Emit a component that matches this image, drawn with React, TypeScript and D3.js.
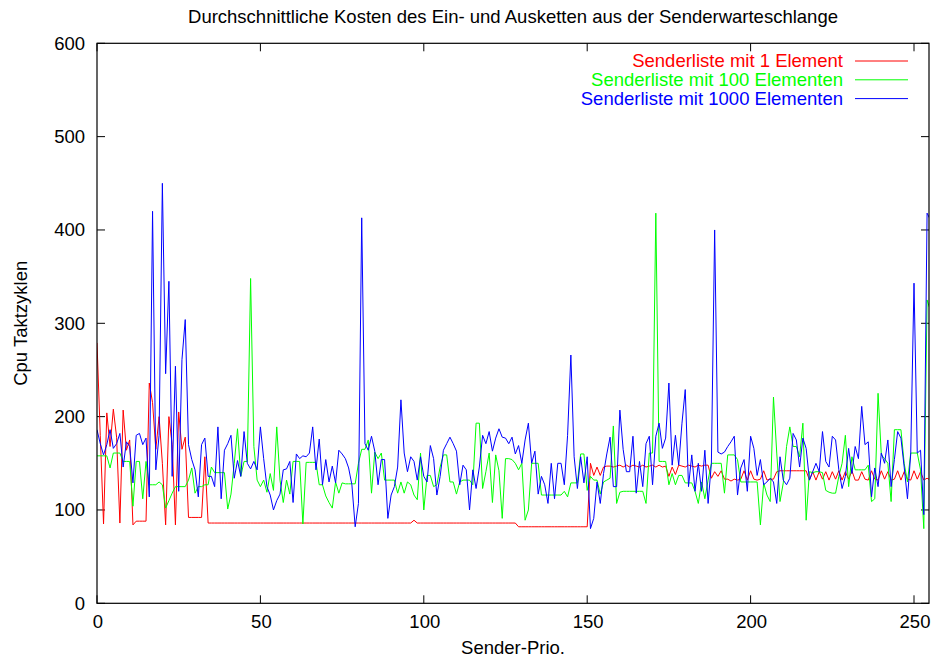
import * as d3 from "d3";

// Sender-Prio. 0..255, ein Wert pro Prioritaet
const kosten1 = [
  279, 180, 85, 204, 168, 208, 178, 86, 207, 164, 175, 84, 88, 88, 88, 88,
  236, 215, 165, 200, 150, 84, 200, 170, 84, 205, 165, 178, 92, 92, 92, 92,
  92, 157, 86, 86, 86, 86, 86, 86, 86, 86, 86, 86, 86, 86, 86, 86,
  86, 86, 86, 86, 86, 86, 86, 86, 86, 86, 86, 86, 86, 86, 86, 86,
  86, 86, 86, 86, 86, 86, 86, 86, 86, 86, 86, 86, 86, 86, 86, 86,
  86, 86, 86, 86, 86, 86, 86, 86, 86, 86, 86, 86, 86, 86, 86, 86,
  86, 89, 86, 86, 86, 86, 86, 86, 86, 86, 86, 86, 86, 86, 86, 86,
  86, 86, 86, 86, 86, 86, 86, 86, 86, 86, 86, 86, 86, 86, 86, 86,
  86, 82, 82, 82, 82, 82, 82, 82, 82, 82, 82, 82, 82, 82, 82, 82,
  82, 82, 82, 82, 82, 82, 82, 150, 137, 146, 137, 146, 147, 147, 146, 147,
  148, 146, 148, 146, 148, 147, 146, 148, 146, 147, 148, 146, 148, 146, 147, 136,
  146, 138, 148, 147, 146, 148, 147, 146, 148, 147, 148, 148, 134, 141, 136, 142,
  133, 133, 131, 133, 132, 133, 142, 132, 142, 133, 132, 133, 142, 132, 133, 133,
  141, 142, 142, 142, 142, 142, 142, 142, 142, 142, 132, 141, 132, 141, 133, 141,
  132, 141, 133, 142, 132, 141, 133, 142, 132, 132, 141, 133, 132, 142, 133, 132,
  142, 133, 141, 132, 133, 142, 132, 141, 133, 132, 142, 133, 141, 132, 134, 132,
];

const kosten100 = [
  158, 158, 158, 158, 145, 161, 161, 161, 152, 152, 152, 104, 152, 152, 112, 152,
  127, 127, 127, 130, 127, 102, 110, 118, 125, 125, 125, 125, 132, 145, 118, 125,
  125, 127, 127, 146, 140, 140, 140, 140, 101, 117, 150, 187, 136, 152, 152, 348,
  168, 132, 125, 132, 119, 139, 121, 189, 132, 108, 132, 117, 152, 152, 152, 85,
  151, 151, 151, 151, 127, 127, 115, 108, 102, 130, 118, 129, 128, 128, 128, 128,
  150, 165, 165, 175, 118, 162, 155, 161, 132, 132, 132, 132, 118, 130, 118, 130,
  127, 116, 111, 161, 100, 137, 137, 125, 127, 146, 159, 159, 130, 130, 117, 130,
  132, 132, 132, 127, 193, 193, 123, 141, 161, 108, 159, 142, 91, 155, 155, 154,
  150, 143, 150, 89, 100, 150, 150, 150, 116, 116, 116, 116, 116, 116, 116, 120,
  114, 129, 129, 129, 160, 160, 121, 136, 132, 132, 117, 130, 132, 134, 190, 107,
  119, 120, 120, 120, 120, 120, 120, 120, 107, 161, 161, 418, 152, 152, 152, 127,
  139, 127, 137, 137, 129, 129, 129, 120, 107, 130, 112, 132, 150, 150, 150, 150,
  118, 159, 159, 159, 154, 130, 130, 130, 130, 130, 130, 84, 129, 116, 109, 221,
  161, 109, 129, 168, 189, 168, 168, 157, 193, 89, 141, 140, 141, 141, 140, 121,
  119, 118, 118, 136, 150, 180, 125, 157, 143, 143, 143, 143, 148, 109, 112, 225,
  159, 155, 150, 109, 186, 186, 186, 150, 130, 161, 161, 161, 143, 80, 325, 314,
];

const kosten1000 = [
  186, 171, 159, 170, 186, 166, 171, 182, 146, 173, 168, 129, 180, 182, 170, 177,
  114, 420, 143, 180, 450, 246, 345, 136, 254, 120, 261, 304, 170, 154, 143, 114,
  170, 177, 136, 136, 125, 189, 112, 164, 171, 180, 134, 153, 136, 184, 150, 144,
  152, 143, 189, 155, 125, 116, 100, 110, 117, 143, 144, 152, 108, 160, 155, 158,
  157, 161, 189, 143, 176, 127, 154, 130, 147, 129, 164, 160, 155, 145, 127, 82,
  107, 413, 171, 164, 179, 163, 127, 154, 154, 91, 116, 125, 146, 218, 161, 141,
  157, 152, 132, 157, 136, 130, 169, 155, 116, 136, 164, 171, 178, 171, 163, 127,
  148, 143, 100, 143, 123, 146, 180, 171, 184, 163, 177, 187, 178, 177, 171, 178,
  160, 169, 150, 175, 193, 150, 163, 117, 136, 127, 107, 150, 112, 150, 150, 127,
  180, 266, 157, 123, 157, 129, 157, 80, 91, 130, 107, 139, 160, 178, 125, 125,
  207, 165, 141, 141, 179, 118, 152, 125, 171, 179, 127, 179, 193, 166, 177, 236,
  148, 180, 148, 193, 229, 125, 159, 120, 150, 120, 164, 107, 150, 400, 162, 160,
  162, 168, 173, 179, 116, 145, 154, 120, 179, 166, 137, 154, 127, 130, 134, 130,
  107, 157, 132, 127, 134, 182, 175, 146, 177, 166, 132, 141, 150, 141, 184, 152,
  146, 179, 175, 143, 123, 136, 166, 139, 168, 155, 211, 170, 173, 114, 145, 125,
  161, 150, 175, 125, 154, 184, 177, 146, 112, 160, 343, 161, 164, 95, 418, 411,
];

const xTicks = [0, 50, 100, 150, 200, 250];
const yTicks = [0, 100, 200, 300, 400, 500, 600];

const serien = [
  { name: "Senderliste mit 1 Element", color: "#ff0000", values: kosten1 },
  { name: "Senderliste mit 100 Elementen", color: "#00ff00", values: kosten100 },
  { name: "Senderliste mit 1000 Elementen", color: "#0000ff", values: kosten1000 },
];

const width = 931;
const height = 660;
const left = 97;
const right = 929;
const top = 43.3;
const bottom = 603.3;
const tickLen = 8;
const font = "'Liberation Sans', Arial, Helvetica, sans-serif";
const fs = 18.5;

export default function App() {
  const x = d3.scaleLinear([0, 255], [left, left + 255 * ((914 - left) / 250)]);
  const y = d3.scaleLinear([0, 600], [bottom, top]);
  const line = d3.line<number>((d, i) => x(i), (d) => y(d));

  return (
    <svg
      width={width}
      height={height}
      style={{ position: "absolute", left: 0, top: 0, background: "#fff" }}
      fontFamily={font}
      fontSize={fs}
    >
      <defs>
        <clipPath id="plot">
          <rect x={left} y={top} width={right - left} height={bottom - top} />
        </clipPath>
      </defs>

      <text x={(left + right) / 2} y={23} textAnchor="middle" fill="#000">
        Durchschnittliche Kosten des Ein- und Ausketten aus der Senderwarteschlange
      </text>

      {/* ticks */}
      <g stroke="#000" strokeWidth={1}>
        {xTicks.map((t) => (
          <g key={"x" + t}>
            <line x1={x(t)} x2={x(t)} y1={bottom} y2={bottom - tickLen} />
            <line x1={x(t)} x2={x(t)} y1={top} y2={top + tickLen} />
          </g>
        ))}
        {yTicks.map((t) => (
          <g key={"y" + t}>
            <line x1={left} x2={left + tickLen} y1={y(t)} y2={y(t)} />
            <line x1={right} x2={right - tickLen} y1={y(t)} y2={y(t)} />
          </g>
        ))}
      </g>
      {xTicks.map((t) => (
        <text key={"xl" + t} x={x(t) + 1} y={628} textAnchor="middle" fill="#000">
          {t}
        </text>
      ))}
      {yTicks.map((t) => (
        <text key={"yl" + t} x={85} y={y(t)} dy="0.35em" textAnchor="end" fill="#000">
          {t}
        </text>
      ))}

      <g clipPath="url(#plot)" fill="none" strokeWidth={1}>
        {serien.map((s) => (
          <path key={s.name} d={line(s.values) ?? ""} stroke={s.color} />
        ))}
      </g>

      <rect
        x={left}
        y={top}
        width={right - left}
        height={bottom - top}
        fill="none"
        stroke="#000"
        strokeWidth={1.2}
      />

      {/* legend */}
      {serien.map((s, i) => {
        const ly = 61 + i * 18.8;
        return (
          <g key={"lg" + s.name}>
            <text x={843} y={ly} dy="0.35em" textAnchor="end" fill={s.color}>
              {s.name}
            </text>
            <line x1={855} x2={908} y1={ly} y2={ly} stroke={s.color} strokeWidth={1} />
          </g>
        );
      })}

      <text
        transform={`translate(27,${(top + bottom) / 2}) rotate(-90)`}
        textAnchor="middle"
        fill="#000"
      >
        Cpu Taktzyklen
      </text>
      <text x={(left + right) / 2} y={654} textAnchor="middle" fill="#000">
        Sender-Prio.
      </text>
    </svg>
  );
}
